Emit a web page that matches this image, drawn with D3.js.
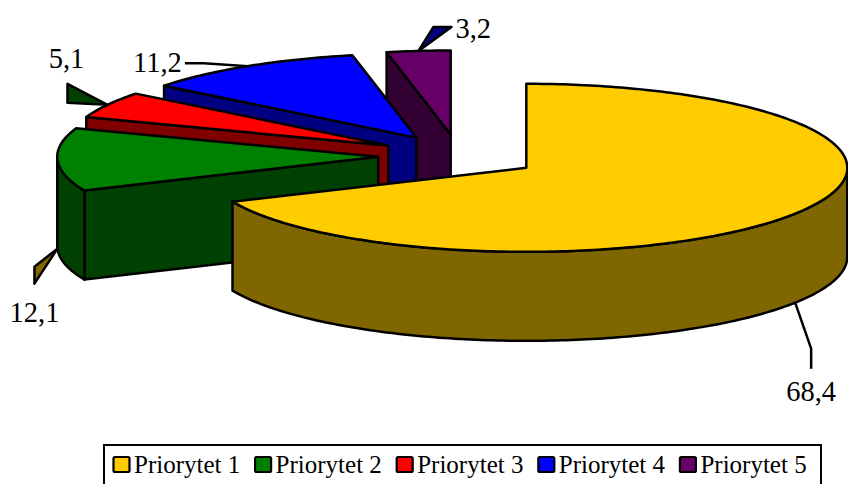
<!DOCTYPE html>
<html>
<head>
<meta charset="utf-8">
<script src="https://cdn.jsdelivr.net/npm/d3@7"></script>
<style>
  html, body { margin: 0; padding: 0; background: #fff; }
  svg { display: block; }
  text { font-family: "Liberation Serif", serif; fill: #000; }
</style>
</head>
<body>
<div id="chart"></div>
<script>
const categories = ["Priorytet 1", "Priorytet 2", "Priorytet 3", "Priorytet 4", "Priorytet 5"];
const values = [68.4, 12.1, 5.1, 11.2, 3.2];
const valueLabels = ["68,4", "12,1", "5,1", "11,2", "3,2"];
const topColors = ["#ffcc00", "#008000", "#ff0000", "#0000ff", "#660066"];
const sideColors = ["#806600", "#004000", "#800000", "#000080", "#330033"];

const width = 848;
const height = 484;

// pie geometry
const rx = 321;
const ry = 84;
const depth = 89;
const centerX = 458.8;
const centerY = 156;
const explodeX = 80.6;
const explodeY = 21.6;

const svg = d3.select("#chart")
              .append("svg")
              .attr("width", width)
              .attr("height", height);

const slices = d3.pie().sort(null)(values).map((d, i) => {
    const mid = (d.startAngle + d.endAngle) / 2;
    return {
        index: i,
        start: d.startAngle,
        end: d.endAngle,
        mid: mid,
        cx: centerX + explodeX * Math.sin(mid),
        cy: centerY - explodeY * Math.cos(mid)
    };
});

const rimX = (s, a) => s.cx + rx * Math.sin(a);
const rimY = (s, a) => s.cy - ry * Math.cos(a);

const line = d3.line();

function rim(s, from, to, dy) {
    const n = Math.max(2, Math.ceil(Math.abs(to - from) * 60));
    return d3.range(n + 1).map(k => {
        const a = from + (to - from) * k / n;
        return [rimX(s, a), rimY(s, a) + dy];
    });
}

function drawSlice(s) {
    const g = svg.append("g")
                 .attr("stroke", "#000")
                 .attr("stroke-width", 2.5)
                 .attr("stroke-linejoin", "round");
    const side = sideColors[s.index];

    // flat face running from the centre to the start of the slice
    if (s.index > 0) {
        g.append("path")
         .attr("fill", side)
         .attr("d", line([
            [s.cx, s.cy],
            [rimX(s, s.start), rimY(s, s.start)],
            [rimX(s, s.start), rimY(s, s.start) + depth],
            [s.cx, s.cy + depth]
         ]) + "Z");
    }

    // outer wall, only where the rim faces the viewer
    const wallFrom = Math.max(s.start, Math.PI / 2);
    const wallTo = Math.min(s.end, 3 * Math.PI / 2);
    if (wallFrom < wallTo) {
        g.append("path")
         .attr("fill", side)
         .attr("d", line(rim(s, wallFrom, wallTo, 0).concat(rim(s, wallTo, wallFrom, depth))) + "Z");
    }

    // top face
    g.append("path")
     .attr("fill", topColors[s.index])
     .attr("d", line([[s.cx, s.cy]].concat(rim(s, s.start, s.end, 0))) + "Z");
}

// back to front
[4, 3, 2, 1, 0].forEach(i => drawSlice(slices[i]));

// leaders: elbows relative to the rim point, label anchored relative to it too
const leaderLayout = [
    { fill: "none",    steps: [[16, 46], [16, 66]],      label: [16, 98],   anchor: "middle" },
    { fill: "#806600", steps: [[-23, 18], [-23, 35]],    label: [-23, 73],  anchor: "middle" },
    { fill: "#004000", steps: [[-40, -21], [-40, -2]],   label: [-41, -37], anchor: "middle" },
    { fill: "none",    steps: [[-44, -3], [-63, -3]],    label: [-66, 6],   anchor: "end" },
    { fill: "#000080", steps: [[15, -24], [33, -24]],    label: [37, -13],  anchor: "start" }
];

slices.forEach(s => {
    const layout = leaderLayout[s.index];
    const x0 = rimX(s, s.mid);
    const y0 = rimY(s, s.mid) + (s.index <= 1 ? depth : 0);
    const pts = [[x0, y0]].concat(layout.steps.map(p => [x0 + p[0], y0 + p[1]]));
    svg.append("path")
       .attr("fill", layout.fill)
       .attr("stroke", "#000")
       .attr("stroke-width", 2.5)
       .attr("stroke-linejoin", "round")
       .attr("d", line(pts) + (layout.fill === "none" ? "" : "Z"));
    svg.append("text")
       .attr("x", x0 + layout.label[0])
       .attr("y", y0 + layout.label[1])
       .attr("font-size", "28.5px")
       .attr("text-anchor", layout.anchor)
       .text(valueLabels[s.index]);
});

// legend
const legendX = d3.scaleBand().domain(categories).range([112, 820]).paddingInner(0);

svg.append("rect")
   .attr("x", 104)
   .attr("y", 445)
   .attr("width", 717)
   .attr("height", 50)
   .attr("fill", "#fff")
   .attr("stroke", "#000")
   .attr("stroke-width", 2);

const legend = svg.selectAll(".legend-item")
                  .data(categories)
                  .enter()
                  .append("g")
                  .attr("class", "legend-item")
                  .attr("transform", d => `translate(${legendX(d)}, 0)`);

legend.append("rect")
      .attr("x", 1.5)
      .attr("y", 457)
      .attr("width", 16)
      .attr("height", 15)
      .attr("rx", 1.5)
      .attr("fill", (d, i) => topColors[i])
      .attr("stroke", "#000")
      .attr("stroke-width", 2.2);

legend.append("text")
      .attr("x", 22)
      .attr("y", 473)
      .attr("font-size", "25px")
      .text(d => d);
</script>
</body>
</html>
